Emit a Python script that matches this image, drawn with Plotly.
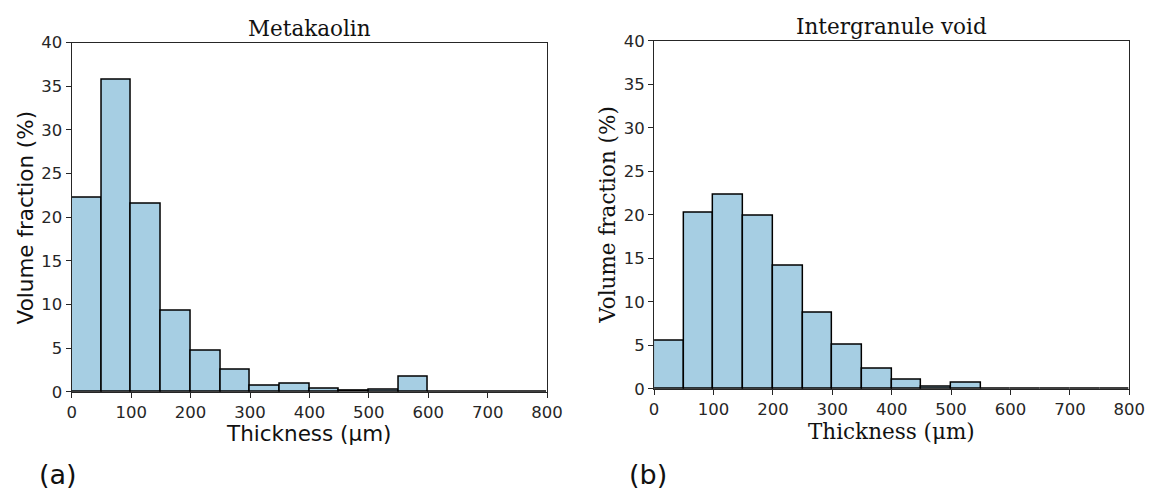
import plotly.graph_objects as go

# ---- data ----
bin_edges = [0, 50, 100, 150, 200, 250, 300, 350, 400, 450, 500, 550, 600, 650, 700, 750, 800]
metakaolin_pct = [22.3, 35.8, 21.6, 9.3, 4.7, 2.6, 0.7, 0.9, 0.4, 0.15, 0.25, 1.7, 0, 0, 0, 0]
void_pct = [5.5, 20.2, 22.3, 19.9, 14.1, 8.8, 5.1, 2.3, 1.1, 0.3, 0.7, 0, 0, 0, 0, 0]
x_ticks = [0, 100, 200, 300, 400, 500, 600, 700, 800]
y_ticks = [0, 5, 10, 15, 20, 25, 30, 35, 40]

centers = [(a + b) / 2 for a, b in zip(bin_edges[:-1], bin_edges[1:])]
widths = [b - a for a, b in zip(bin_edges[:-1], bin_edges[1:])]

W, H = 1164, 500
BAR = "#a6cee3"
AX = "#262626"
SANS = "DejaVu Sans"
SERIF = "DejaVu Serif"

fig = go.Figure()
fig.add_trace(go.Bar(x=centers, y=metakaolin_pct, width=widths, marker=dict(color=BAR, line=dict(color="black", width=1.5)),
                     xaxis="x", yaxis="y", showlegend=False))
fig.add_trace(go.Bar(x=centers, y=void_pct, width=widths, marker=dict(color=BAR, line=dict(color="black", width=1.5)),
                     xaxis="x2", yaxis="y2", showlegend=False))

def px_x(p):
    return p / W

def px_y(p):
    return 1 - p / H

axis_common = dict(showline=True, linecolor=AX, linewidth=1.2, mirror=True, ticks="outside", ticklen=5,
                   tickwidth=1.2, tickcolor=AX, showgrid=False, zeroline=False,
                   tickfont=dict(family=SANS, size=16.5, color=AX))

fig.update_layout(
    width=W, height=H, margin=dict(l=0, r=0, t=0, b=0),
    paper_bgcolor="white", plot_bgcolor="white", bargap=0,
    xaxis=dict(domain=[px_x(68), px_x(552)], range=[0, 800], tickvals=x_ticks, anchor="y", **axis_common),
    yaxis=dict(domain=[px_y(398), px_y(35)], range=[0, 40], tickvals=y_ticks, anchor="x", **axis_common),
    xaxis2=dict(domain=[px_x(661), px_x(1145)], range=[0, 800], tickvals=x_ticks, anchor="y2", **axis_common),
    yaxis2=dict(domain=[px_y(395), px_y(33)], range=[0, 40], tickvals=y_ticks, anchor="x2", **axis_common),
)

TXT = "#111111"
ann = [
    dict(text="Metakaolin", x=px_x(310), y=px_y(20), font=dict(family=SERIF, size=21.5, color=TXT)),
    dict(text="Intergranule void", x=px_x(903), y=px_y(18), font=dict(family=SERIF, size=21.5, color=TXT)),
    dict(text="Thickness (μm)", x=px_x(310), y=px_y(441), font=dict(family=SANS, size=21.5, color=TXT)),
    dict(text="Thickness (μm)", x=px_x(903), y=px_y(439), font=dict(family=SERIF, size=21.5, color=TXT)),
    dict(text="Volume fraction (%)", x=px_x(21), y=px_y(217), textangle=-90, font=dict(family=SANS, size=21.5, color=TXT)),
    dict(text="Volume fraction (%)", x=px_x(614), y=px_y(214), textangle=-90, font=dict(family=SERIF, size=21.5, color=TXT)),
    dict(text="(a)", x=px_x(54), y=px_y(484), font=dict(family=SANS, size=27, color=TXT)),
    dict(text="(b)", x=px_x(655), y=px_y(484), font=dict(family=SANS, size=27, color=TXT)),
]
for a in ann:
    fig.add_annotation(xref="paper", yref="paper", showarrow=False, xanchor="center", yanchor="middle", **a)

fig.write_html("out.html")
